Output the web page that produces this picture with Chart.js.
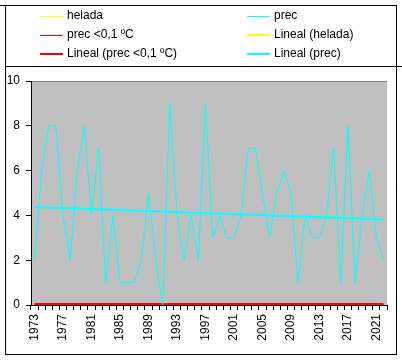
<!DOCTYPE html>
<html>
<head>
<meta charset="utf-8">
<script src="https://cdn.jsdelivr.net/npm/chart.js@4.4.1/dist/chart.umd.min.js"></script>
<style>
  html, body { margin:0; padding:0; background:#fff; }
  #wrap { position:relative; width:402px; height:360px; overflow:hidden; font-family:"Liberation Sans", Arial, sans-serif; }
  #chart { position:absolute; left:0; top:0; }
  .ln { position:absolute; background:#000; }
  .lg-item { position:absolute; font-size:12px; color:#000; line-height:14px; white-space:nowrap; }
  .lg-sw { position:absolute; width:23px; }
</style>
</head>
<body>
<div id="wrap">
  <canvas id="chart" width="402" height="360"></canvas>

  <!-- frame -->
  <div class="ln" style="left:0;top:5px;width:397px;height:1px"></div>
  <div class="ln" style="left:5px;top:5px;width:1px;height:350px"></div>
  <div class="ln" style="left:396px;top:5px;width:1px;height:350px"></div>
  <div class="ln" style="left:5px;top:66px;width:397px;height:1px"></div>
  <div class="ln" style="left:5px;top:354px;width:392px;height:1px"></div>

  <div id="legend"></div>
</div>

<script>
/* values */
const YEARS = [];
for (let y = 1973; y <= 2022; y++) YEARS.push(String(y));

const PREC = [2, 6, 8, 8, 4, 2, 6, 8, 4, 7,
              1, 4, 1, 1, 1, 2, 5, 2, 0, 9,
              4, 2, 4, 2, 9, 3, 4, 3, 3, 4,
              7, 7, 5, 3, 5, 6, 5, 1, 4, 3,
              3, 4, 7, 1, 8, 1, 4, 6, 3, 2];
const HELADA = PREC.slice();                 // lies under prec, not visible in the picture
const PREC_BAJO = YEARS.map(() => 0);        // prec <0,1 ºC, all zero

// linear trend end points
const TREND_PREC = [4.37, 3.82];
const TREND_HELADA = [4.37, 3.82];
const TREND_BAJO = [0, 0];

const Y_TICKS = [0, 2, 4, 6, 8, 10];

const COLORS = { cyan:'#00ffff', yellow:'#ffff00', red:'#ff0000', plot:'#c0c0c0', plotEdge:'#808080' };

const LEGEND = [
  {t:'helada', c:COLORS.yellow, w:1, x:40, y:16},
  {t:'prec', c:COLORS.cyan, w:1, x:247, y:16},
  {t:'prec <0,1 ºC', c:COLORS.red, w:1, x:40, y:35},
  {t:'Lineal (helada)', c:COLORS.yellow, w:2, x:247, y:35},
  {t:'Lineal (prec <0,1 ºC)', c:COLORS.red, w:2, x:40, y:54},
  {t:'Lineal (prec)', c:COLORS.cyan, w:2, x:247, y:54},
];

function renderLegend(){
  const el = document.getElementById('legend');
  el.innerHTML = LEGEND.map(it => `
    <div class="lg-sw" style="left:${it.x}px;top:${it.y - Math.floor(it.w/2)}px;height:${it.w}px;background:${it.c}"></div>
    <div class="lg-item" style="left:${it.x + 27}px;top:${it.y - 8}px">${it.t}</div>`).join('');
}

function trend(pts){
  return [{x:YEARS[0], y:pts[0]}, {x:YEARS[YEARS.length-1], y:pts[1]}];
}

const plotBg = {
  id:'plotBg',
  beforeDraw(chart){
    const a = chart.chartArea, ctx = chart.ctx;
    ctx.save();
    ctx.fillStyle = COLORS.plot;
    ctx.fillRect(a.left, a.top, a.right - a.left, a.bottom - a.top);
    ctx.fillStyle = COLORS.plotEdge;
    ctx.fillRect(a.left, a.top, a.right - a.left, 1);
    ctx.restore();
  }
};

function lineDs(label, data, color, width, hidden){
  return {label, data, borderColor:color, backgroundColor:color, borderWidth:width,
          pointRadius:0, tension:0, fill:false, hidden:!!hidden};
}

renderLegend();

new Chart(document.getElementById('chart').getContext('2d'), {
  type:'line',
  data:{
    labels:YEARS,
    datasets:[
      lineDs('Lineal (prec)', trend(TREND_PREC), COLORS.cyan, 2),
      lineDs('prec', PREC, COLORS.cyan, 1),
      // half of this sits below the plot edge and is clipped, leaving ~2px
      lineDs('Lineal (prec <0,1 ºC)', trend(TREND_BAJO), COLORS.red, 4),
      lineDs('prec <0,1 ºC', PREC_BAJO, COLORS.red, 1),
      // helada coincides with prec and is covered by it in the reference
      lineDs('Lineal (helada)', trend(TREND_HELADA), COLORS.yellow, 2, true),
      lineDs('helada', HELADA, COLORS.yellow, 1, true),
    ]
  },
  options:{
    responsive:false, animation:false,
    layout:{padding:{left:5, top:81, right:6, bottom:6}},
    plugins:{legend:{display:false}, tooltip:{enabled:false}},
    scales:{
      x:{
        offset:true,
        grid:{offset:true, drawOnChartArea:false, drawTicks:true, tickLength:5, color:'#000'},
        border:{color:'#000'},
        ticks:{
          autoSkip:false, minRotation:90, maxRotation:90, padding:4,
          color:'#000', font:{family:'"Liberation Sans", Arial', size:12},
          callback(v, i){ return i % 4 === 0 ? this.getLabelForValue(v) : ''; }
        },
        afterFit(s){ s.height = 49; }
      },
      y:{
        min:0, max:10,
        afterBuildTicks(s){ s.ticks = Y_TICKS.map(v => ({value:v})); },
        grid:{drawOnChartArea:false, drawTicks:true, tickLength:5, color:'#000'},
        border:{color:'#000'},
        ticks:{padding:6, color:'#000', font:{family:'"Liberation Sans", Arial', size:12}},
        afterFit(s){ s.width = 26; }
      }
    }
  },
  plugins:[plotBg]
});
</script>
</body>
</html>
